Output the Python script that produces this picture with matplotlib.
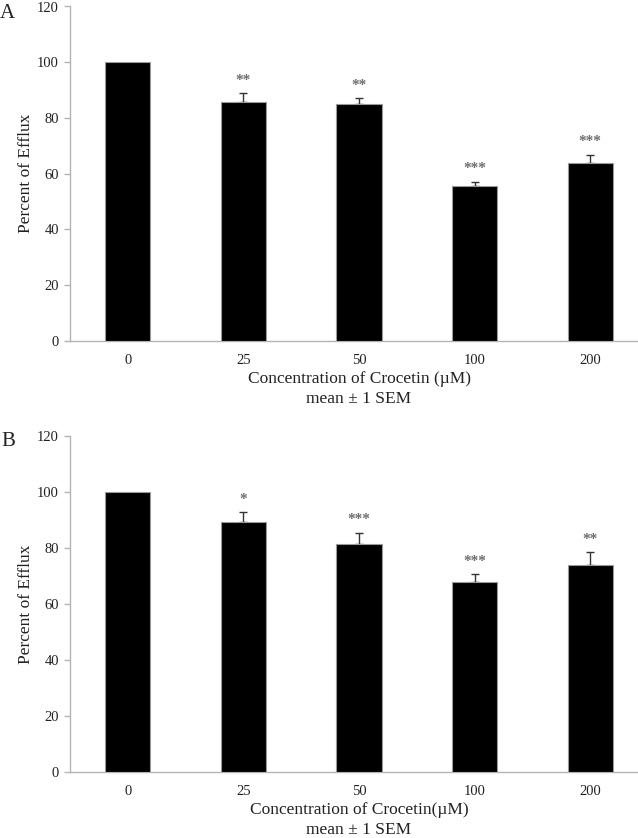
import numpy as np
import matplotlib
matplotlib.use("Agg")
import matplotlib.pyplot as plt

plt.rcParams["font.family"] = ["Liberation Serif", "DejaVu Serif"]

# 데이터
CONC = ["0", "25", "50", "100", "200"]

EFFLUX_A = [100, 85.7, 85.1, 55.7, 63.8]
SEM_A = [0, 3.2, 2.0, 1.5, 3.0]
STARS_A = ["", "**", "**", "***", "***"]

EFFLUX_B = [100, 89.4, 81.3, 67.9, 74.0]
SEM_B = [0, 3.3, 4.2, 2.7, 4.6]
STARS_B = ["", "*", "***", "***", "**"]

W, H = 638, 838
TXT = "#222222"
SPINE = "#b4b4b4"


def panel(ax, vals, errs, stars, xlabel):
    x = np.arange(len(CONC))
    ax.bar(x, vals, width=0.39, color="black", edgecolor="#9a9a9a",
           linewidth=0.8, zorder=3)
    ax.errorbar(x[1:], vals[1:], yerr=[np.zeros(len(x) - 1), errs[1:]],
                fmt="none", ecolor="#333333", elinewidth=1.0, capsize=3,
                capthick=1.0, zorder=2)
    for xi, v, e, s in zip(x, vals, errs, stars):
        if s:
            ax.text(xi, v + e + 4.6, s, ha="center", va="center",
                    fontsize=11, color="#6e6e6e", fontweight="bold")
    ax.set_xlim(-0.5, 4.5)
    ax.set_ylim(0, 120)
    ax.set_yticks(range(0, 121, 20))
    ax.set_xticks(x)
    ax.set_xticklabels(CONC)
    for sp in ("top", "right"):
        ax.spines[sp].set_visible(False)
    for sp in ("left", "bottom"):
        ax.spines[sp].set_color(SPINE)
        ax.spines[sp].set_linewidth(1.0)
    ax.tick_params(axis="y", length=4, width=1.0, color=SPINE, pad=4,
                   labelsize=10.5, labelcolor=TXT)
    ax.tick_params(axis="x", length=0, pad=9, labelsize=10.5,
                   labelcolor=TXT)
    ax.set_ylabel("Percent of Efflux", fontsize=12.5, color=TXT,
                  labelpad=2)
    ax.set_xlabel(xlabel + "\nmean \u00b1 1 SEM", fontsize=12.5,
                  color=TXT, labelpad=3, linespacing=1.4)


fig = plt.figure(figsize=(W / 100, H / 100), dpi=100)
left = 70 / W
width = 578 / W
axA = fig.add_axes([left, (H - 341) / H, width, 334.5 / H])
axB = fig.add_axes([left, (H - 772) / H, width, 336 / H])

panel(axA, EFFLUX_A, SEM_A, STARS_A, "Concentration of Crocetin (\u00b5M)")
panel(axB, EFFLUX_B, SEM_B, STARS_B, "Concentration of Crocetin(\u00b5M)")

fig.text(0 / W, 1 - 13 / H, "A", fontsize=15, color=TXT, va="center")
fig.text(1 / W, 1 - 441 / H, "B", fontsize=15, color=TXT, va="center")

fig.savefig("out.png", dpi=100)
